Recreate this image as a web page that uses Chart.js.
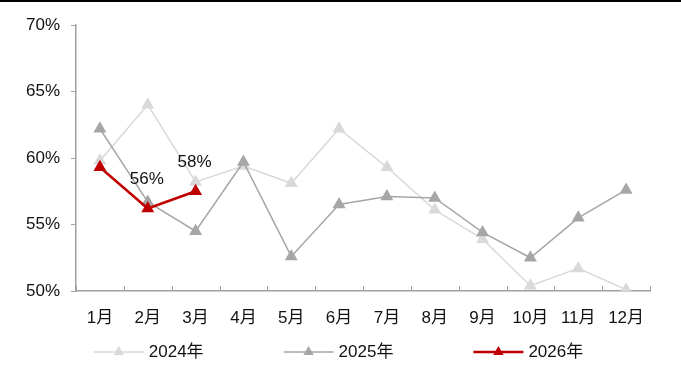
<!DOCTYPE html>
<html>
<head>
<meta charset="utf-8">
<script src="https://cdn.jsdelivr.net/npm/chart.js@4/dist/chart.umd.min.js"></script>
<style>
  html, body { margin: 0; padding: 0; background: #fff; }
  #wrap { width: 681px; height: 376px; }
</style>
</head>
<body>
<div id="wrap"><canvas id="c" width="681" height="376"></canvas></div>
<script>
// Monthly share (%) by year
const months = ['1月','2月','3月','4月','5月','6月','7月','8月','9月','10月','11月','12月'];
const series2024 = [59.8, 64.0, 58.2, 59.4, 58.1, 62.2, 59.3, 56.1, 53.9, 50.4, 51.7, 50.1];
const series2025 = [62.2, 56.7, 54.5, 59.7, 52.6, 56.5, 57.1, 57.0, 54.4, 52.5, 55.5, 57.6];
const series2026 = [59.3, 56.2, 57.5];
const seriesNames = ['2024年', '2025年', '2026年'];
const yTicks = [50, 55, 60, 65, 70];
// which points of the 2026 line carry a value label
const labelledPoints2026 = [1, 2];

const FONT = '"Liberation Sans", Arial, "Noto Sans CJK SC", sans-serif';
const FONT_SIZE = 17;
const AXIS_GREY = '#a0a0a0';
const TEXT = '#111';

// thin black rule across the top of the figure
const topRule = {
  id: 'topRule',
  afterDraw(chart) {
    const ctx = chart.ctx;
    ctx.save();
    ctx.fillStyle = '#000';
    ctx.fillRect(0, 0, chart.width, 2);
    ctx.restore();
  }
};

// short tick marks pointing up from the category axis, between categories
const innerXTicks = {
  id: 'innerXTicks',
  afterDraw(chart) {
    const x = chart.scales.x;
    const ctx = chart.ctx;
    const n = x.ticks.length;
    const step = (x.right - x.left) / n;
    ctx.save();
    ctx.strokeStyle = AXIS_GREY;
    ctx.lineWidth = 1;
    ctx.beginPath();
    for (let i = 0; i <= n; i++) {
      const px = Math.round(x.left + i * step) + 0.5;
      ctx.moveTo(px, x.top);
      ctx.lineTo(px, x.top - 5);
    }
    ctx.stroke();
    ctx.restore();
  }
};

// value labels above selected points of the 2026 line
const pointLabels = {
  id: 'pointLabels',
  afterDatasetsDraw(chart) {
    const ctx = chart.ctx;
    const dsIndex = chart.data.datasets.findIndex(d => d.label === '2026年');
    const meta = chart.getDatasetMeta(dsIndex);
    ctx.save();
    ctx.font = FONT_SIZE + 'px ' + FONT;
    ctx.fillStyle = TEXT;
    ctx.textAlign = 'center';
    ctx.textBaseline = 'middle';
    labelledPoints2026.forEach(i => {
      const pt = meta.data[i];
      const v = chart.data.datasets[dsIndex].data[i];
      ctx.fillText(Math.round(v) + '%', pt.x - 1, pt.y - 29);
    });
    ctx.restore();
  }
};

// legend: line segment with the marker in its middle, then the name
const lineLegend = {
  id: 'lineLegend',
  afterDraw(chart) {
    const ctx = chart.ctx;
    const sets = chart.data.datasets.slice().sort((a, b) => a.label.localeCompare(b.label));
    ctx.save();
    ctx.font = FONT_SIZE + 'px ' + FONT;
    const lineLen = 50, textGap = 5, itemGap = 80;
    const widths = sets.map(d => lineLen + textGap + ctx.measureText(d.label).width);
    const total = widths.reduce((a, b) => a + b, 0) + itemGap * (sets.length - 1);
    let x = (chart.width - total) / 2 - 2;
    const y = 352;
    const r = 6;
    sets.forEach((d, i) => {
      ctx.strokeStyle = d.borderColor;
      ctx.lineWidth = d.borderWidth;
      ctx.beginPath();
      ctx.moveTo(x, y);
      ctx.lineTo(x + lineLen, y);
      ctx.stroke();
      const cx = x + lineLen / 2;
      ctx.fillStyle = d.pointBackgroundColor;
      ctx.beginPath();
      ctx.moveTo(cx, y - r);
      ctx.lineTo(cx + r * Math.sin(Math.PI * 2 / 3), y - r * Math.cos(Math.PI * 2 / 3));
      ctx.lineTo(cx - r * Math.sin(Math.PI * 2 / 3), y - r * Math.cos(Math.PI * 2 / 3));
      ctx.closePath();
      ctx.fill();
      ctx.fillStyle = TEXT;
      ctx.textAlign = 'left';
      ctx.textBaseline = 'middle';
      ctx.fillText(d.label, x + lineLen + textGap, y);
      x += widths[i] + itemGap;
    });
    ctx.restore();
  }
};

function lineSet(label, data, color, width, radius, order) {
  return {
    label, data, order,
    borderColor: color,
    borderWidth: width,
    pointStyle: 'triangle',
    pointRadius: radius,
    pointHoverRadius: radius,
    pointBackgroundColor: color,
    pointBorderColor: color,
    pointBorderWidth: 0,
    tension: 0,
    fill: false
  };
}

new Chart(document.getElementById('c'), {
  type: 'line',
  data: {
    labels: months,
    datasets: [
      lineSet(seriesNames[0], series2024, '#d9d9d9', 1.5, 7.5, 3),
      lineSet(seriesNames[1], series2025, '#a6a6a6', 1.5, 7.5, 2),
      lineSet(seriesNames[2], series2026, '#c00000', 2.5, 7.5, 1)
    ]
  },
  options: {
    responsive: false,
    animation: false,
    devicePixelRatio: 1,
    layout: { padding: { left: 0, right: 31, top: 25, bottom: 45 } },
    plugins: {
      legend: { display: false },
      tooltip: { enabled: false }
    },
    scales: {
      x: {
        offset: true,
        grid: { display: false },
        border: { display: true, color: AXIS_GREY, width: 1.5 },
        ticks: { color: TEXT, font: { family: FONT, size: FONT_SIZE }, padding: 9, maxRotation: 0, autoSkip: false },
        afterFit(s) { s.height = 40; }
      },
      y: {
        min: 50, max: 70,
        afterBuildTicks(s) { s.ticks = yTicks.map(v => ({ value: v })); },
        grid: { display: true, drawOnChartArea: false, drawTicks: true, tickLength: 5, color: AXIS_GREY },
        border: { display: true, color: AXIS_GREY, width: 1.5 },
        ticks: { color: TEXT, font: { family: FONT, size: FONT_SIZE }, padding: 11, callback: v => v + '%' },
        afterFit(s) { s.width = 76; }
      }
    }
  },
  plugins: [topRule, innerXTicks, pointLabels, lineLegend]
});
</script>
</body>
</html>
